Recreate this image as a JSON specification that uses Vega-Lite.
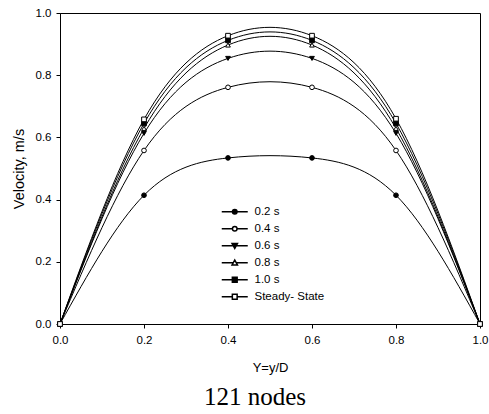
{
  "$schema": "https://vega.github.io/schema/vega-lite/v6.json",
  "autosize": "none",
  "width": 420,
  "height": 311,
  "padding": {"left": 60, "top": 13, "right": 9, "bottom": 90},
  "background": "white",
  "title": {"text": "121 nodes", "orient": "bottom", "anchor": "middle", "frame": "group", "font": "Liberation Serif", "fontSize": 25, "fontWeight": "normal", "color": "black", "offset": 10, "dx": -15},
  "config": {
    "view": {"stroke": "black", "strokeWidth": 1},
    "axis": {"domainColor": "black", "tickColor": "black", "labelColor": "black", "titleColor": "black", "labelFont": "Liberation Sans", "titleFont": "Liberation Sans", "labelFontSize": 11.5, "titleFontSize": 13, "titleFontWeight": "normal", "grid": false, "tickSize": 4, "labelPadding": 5, "labelFlush": false},
    "legend": {"title": null, "orient": "none", "legendX": 156, "legendY": 193, "padding": 0, "symbolSize": 4, "labelOffset": 27, "rowPadding": 4, "labelFont": "Liberation Sans", "labelFontSize": 11.5, "labelColor": "black"}
  },
  "resolve": {"scale": {"shape": "independent", "fill": "independent", "stroke": "independent"}},
  "data": {"values": [
    {"x": 0.0, "v": 0, "s": "0.2 s"}, {"x": 0.2, "v": 0.414, "s": "0.2 s"}, {"x": 0.4, "v": 0.534, "s": "0.2 s"}, {"x": 0.6, "v": 0.534, "s": "0.2 s"}, {"x": 0.8, "v": 0.414, "s": "0.2 s"}, {"x": 1.0, "v": 0, "s": "0.2 s"},
    {"x": 0.0, "v": 0, "s": "0.4 s"}, {"x": 0.2, "v": 0.558, "s": "0.4 s"}, {"x": 0.4, "v": 0.761, "s": "0.4 s"}, {"x": 0.6, "v": 0.761, "s": "0.4 s"}, {"x": 0.8, "v": 0.558, "s": "0.4 s"}, {"x": 1.0, "v": 0, "s": "0.4 s"},
    {"x": 0.0, "v": 0, "s": "0.6 s"}, {"x": 0.2, "v": 0.613, "s": "0.6 s"}, {"x": 0.4, "v": 0.854, "s": "0.6 s"}, {"x": 0.6, "v": 0.854, "s": "0.6 s"}, {"x": 0.8, "v": 0.613, "s": "0.6 s"}, {"x": 1.0, "v": 0, "s": "0.6 s"},
    {"x": 0.0, "v": 0, "s": "0.8 s"}, {"x": 0.2, "v": 0.629, "s": "0.8 s"}, {"x": 0.4, "v": 0.897, "s": "0.8 s"}, {"x": 0.6, "v": 0.897, "s": "0.8 s"}, {"x": 0.8, "v": 0.629, "s": "0.8 s"}, {"x": 1.0, "v": 0, "s": "0.8 s"},
    {"x": 0.0, "v": 0, "s": "1.0 s"}, {"x": 0.2, "v": 0.645, "s": "1.0 s"}, {"x": 0.4, "v": 0.912, "s": "1.0 s"}, {"x": 0.6, "v": 0.912, "s": "1.0 s"}, {"x": 0.8, "v": 0.645, "s": "1.0 s"}, {"x": 1.0, "v": 0, "s": "1.0 s"},
    {"x": 0.0, "v": 0, "s": "Steady- State"}, {"x": 0.2, "v": 0.658, "s": "Steady- State"}, {"x": 0.4, "v": 0.927, "s": "Steady- State"}, {"x": 0.6, "v": 0.927, "s": "Steady- State"}, {"x": 0.8, "v": 0.66, "s": "Steady- State"}, {"x": 1.0, "v": 0, "s": "Steady- State"}
  ]},
  "encoding": {
    "x": {"field": "x", "type": "quantitative", "scale": {"domain": [0, 1], "nice": false, "zero": false}, "axis": {"title": "Y=y/D", "values": [0, 0.2, 0.4, 0.6, 0.8, 1.0], "format": ".1f", "labelPadding": 6, "titlePadding": 16}},
    "y": {"field": "v", "type": "quantitative", "scale": {"domain": [0, 1], "nice": false}, "axis": {"title": "Velocity, m/s", "titleFontSize": 14.5, "values": [0, 0.2, 0.4, 0.6, 0.8, 1.0], "format": ".1f", "titlePadding": 9}}
  },
  "layer": [
    {
      "mark": {"type": "line", "interpolate": "natural", "color": "black", "strokeWidth": 1},
      "encoding": {"detail": {"field": "s"}}
    },
    {
      "mark": {"type": "point", "filled": true, "size": 22, "stroke": "black", "strokeWidth": 1, "opacity": 1},
      "encoding": {
        "shape": {"field": "s", "type": "nominal", "scale": {"domain": ["0.2 s", "0.4 s", "0.6 s", "0.8 s", "1.0 s", "Steady- State"], "range": ["circle", "circle", "triangle-down", "triangle-up", "square", "square"]}, "legend": null},
        "fill": {"field": "s", "type": "nominal", "scale": {"domain": ["0.2 s", "0.4 s", "0.6 s", "0.8 s", "1.0 s", "Steady- State"], "range": ["black", "white", "black", "white", "black", "white"]}, "legend": null}
      }
    },
    {
      "transform": [{"filter": "datum.x > 5"}],
      "mark": {"type": "point", "filled": false, "size": 4, "strokeWidth": 1, "opacity": 1},
      "encoding": {
        "shape": {"field": "s", "type": "nominal", "scale": {"domain": ["0.2 s", "0.4 s", "0.6 s", "0.8 s", "1.0 s", "Steady- State"], "range": [
          "M0,0H10.7M15.3,0H26M10.7,0A2.3,2.3,0,1,0,15.3,0A2.3,2.3,0,1,0,10.7,0Z",
          "M0,0H10.7M15.3,0H26M10.7,0A2.3,2.3,0,1,0,15.3,0A2.3,2.3,0,1,0,10.7,0Z",
          "M0,0H11.5M14.5,0H26M10.3,-2.2L15.7,-2.2L13,2.6Z",
          "M0,0H11.5M14.5,0H26M10.3,2.2L15.7,2.2L13,-2.6Z",
          "M0,0H10.6M15.4,0H26M10.6,-2.4H15.4V2.4H10.6Z",
          "M0,0H10.6M15.4,0H26M10.6,-2.4H15.4V2.4H10.6Z"]}},
        "fill": {"field": "s", "type": "nominal", "scale": {"domain": ["0.2 s", "0.4 s", "0.6 s", "0.8 s", "1.0 s", "Steady- State"], "range": ["black", "white", "black", "white", "black", "white"]}},
        "stroke": {"field": "s", "type": "nominal", "scale": {"domain": ["0.2 s", "0.4 s", "0.6 s", "0.8 s", "1.0 s", "Steady- State"], "range": ["black", "black", "black", "black", "black", "black"]}}
      }
    }
  ]
}
